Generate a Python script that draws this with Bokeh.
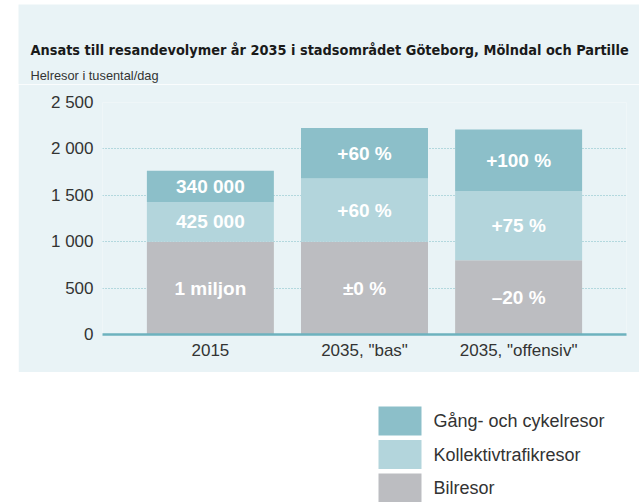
from bokeh.plotting import figure
from bokeh.models import ColumnDataSource, Range1d, FixedTicker, Spacer
from bokeh.layouts import column, row
from bokeh.core.properties import value
from bokeh.embed import file_html
from bokeh.resources import INLINE

# ---------------- data ----------------
categories = ["2015", '2035, "bas"', '2035, "offensiv"']
series = ["Bilresor", "Kollektivtrafikresor", "Gång- och cykelresor"]
bil = [1000, 1000, 800]
koll = [425, 680, 745]
gang = [340, 545, 665]
labels_bil = ["1 miljon", "±0 %", "–20 %"]
labels_koll = ["425 000", "+60 %", "+75 %"]
labels_gang = ["340 000", "+60 %", "+100 %"]
y_ticks = [0, 500, 1000, 1500, 2000, 2500]
y_tick_labels = ["0", "500", "1 000", "1 500", "2 000", "2 500"]
title_text = "Ansats till resandevolymer år 2035 i stadsområdet Göteborg, Mölndal och Partille"
subtitle_text = "Helresor i tusental/dag"

# ---------------- style ----------------
colors = ["#bcbdc1", "#b3d5dc", "#8cbfc9"]
panel_bg = "#e9f3f6"
axis_teal = "#6db2be"
grid_teal = "#7cbcc6"
text_col = "#333333"
FONT = "'Liberation Sans', Arial, sans-serif"
NARROW = "'Liberation Sans Narrow', 'DejaVu Sans Condensed', 'Liberation Sans', sans-serif"

# ---------------- header (title + subtitle) ----------------
head = figure(width=621, height=80, x_range=Range1d(0, 621), y_range=Range1d(80, 0),
              output_backend="svg", toolbar_location=None, min_border=0)
head.axis.visible = False
head.grid.grid_line_color = None
head.outline_line_color = None
head.background_fill_color = panel_bg
head.border_fill_color = panel_bg
head.text(x=[12], y=[45.5], text=[title_text], text_color="#1a1a1a",
          text_font=value(NARROW), text_font_style="bold", text_font_size="14.4px",
          text_baseline="alphabetic")
head.text(x=[12], y=[70.5], text=[subtitle_text], text_color=text_col,
          text_font=value(FONT), text_font_size="12.8px", text_baseline="alphabetic")

# ---------------- main chart ----------------
xs = list(range(len(categories)))
data = {"x": xs, series[0]: bil, series[1]: koll, series[2]: gang}
source = ColumnDataSource(data)

p = figure(width=621, height=288, x_range=Range1d(-0.7, 2.7), y_range=Range1d(0, 2500),
           output_backend="svg", toolbar_location=None,
           min_border_left=84, min_border_right=13, min_border_top=18, min_border_bottom=38)
p.background_fill_color = panel_bg
p.border_fill_color = panel_bg
p.outline_line_color = None

p.vbar_stack(series, x="x", width=0.824, color=colors, line_color=None, source=source)

mid_bil = [b / 2 for b in bil]
mid_koll = [b + k / 2 for b, k in zip(bil, koll)]
mid_gang = [b + k + g / 2 for b, k, g in zip(bil, koll, gang)]
lab_src = ColumnDataSource(dict(
    x=xs * 3,
    y=mid_bil + mid_koll + mid_gang,
    t=labels_bil + labels_koll + labels_gang,
))
p.text(x="x", y="y", text="t", source=lab_src, text_color="white",
       text_font=value(FONT), text_font_style="bold", text_font_size="19px",
       text_align="center", text_baseline="middle")

p.xaxis.ticker = FixedTicker(ticks=xs)
p.xaxis.major_label_overrides = {i: c for i, c in zip(xs, categories)}
p.xaxis.axis_line_color = axis_teal
p.xaxis.axis_line_width = 2.5
p.xaxis.major_tick_line_color = None
p.xaxis.minor_tick_line_color = None
p.xaxis.major_tick_out = 0
p.xaxis.major_label_standoff = 6
p.xaxis.major_label_text_font = FONT
p.xaxis.major_label_text_font_size = "17px"
p.xaxis.major_label_text_color = text_col

p.yaxis.ticker = FixedTicker(ticks=y_ticks)
p.yaxis.major_label_overrides = {t: l for t, l in zip(y_ticks, y_tick_labels)}
p.yaxis.axis_line_color = None
p.yaxis.major_tick_line_color = None
p.yaxis.minor_tick_line_color = None
p.yaxis.major_tick_out = 0
p.yaxis.major_label_standoff = 9
p.yaxis.major_label_text_font = FONT
p.yaxis.major_label_text_font_size = "17px"
p.yaxis.major_label_text_color = text_col

p.xgrid.grid_line_color = None
p.ygrid.grid_line_color = grid_teal
p.ygrid.grid_line_dash = "1 2"
p.ygrid.grid_line_width = 1.2

# ---------------- legend ----------------
lg = figure(width=639, height=130, x_range=Range1d(0, 639), y_range=Range1d(130, 0),
            output_backend="svg", toolbar_location=None, min_border=0)
lg.axis.visible = False
lg.grid.grid_line_color = None
lg.outline_line_color = None
lg.background_fill_color = "white"
lg.border_fill_color = "white"

order = list(range(len(series)))[::-1]
row_y = [48.5 + 33.5 * i for i in range(len(series))]
leg_src = ColumnDataSource(dict(
    y=row_y,
    c=[colors[i] for i in order],
    t=[series[i] for i in order],
))
lg.rect(x=399.5, y="y", width=43, height=29, color="c", line_color=None, source=leg_src)
lg.text(x=433, y="y", text="t", source=leg_src, text_color=text_col,
        text_font=value(FONT), text_font_size="18px", text_baseline="middle")

layout = column(
    Spacer(width=639, height=4),
    row(Spacer(width=18, height=80), head),
    row(Spacer(width=18, height=288), p),
    lg,
)
open("out.html", "w").write(file_html(layout, INLINE))
